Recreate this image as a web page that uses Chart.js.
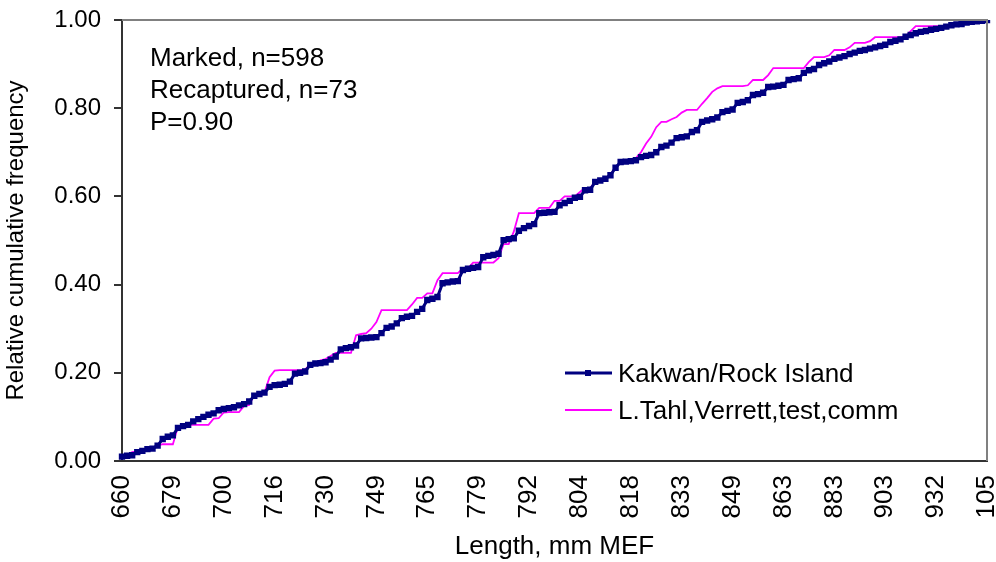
<!DOCTYPE html>
<html>
<head>
<meta charset="utf-8">
<script src="https://cdn.jsdelivr.net/npm/chart.js@4.4.1/dist/chart.umd.min.js"></script>
<style>
  html, body { margin: 0; padding: 0; background: #fff; }
  canvas { display: block; }
</style>
</head>
<body>
<canvas id="cumChart" width="996" height="562"></canvas>
<script>
// lengths (mm MEF), one category per distinct length
const lengths = [
  660, 661, 662, 664, 666, 668, 670, 672, 675, 677,
  679, 681, 683, 685, 687, 690, 692, 694, 696, 698,
  700, 701, 703, 705, 706, 708, 710, 712, 713, 715,
  716, 717, 719, 720, 722, 723, 725, 726, 728, 729,
  730, 732, 734, 736, 738, 740, 742, 744, 746, 747,
  749, 750, 752, 754, 755, 757, 759, 760, 762, 763,
  765, 766, 768, 769, 771, 772, 774, 775, 777, 778,
  779, 780, 782, 783, 784, 786, 787, 788, 790, 791,
  792, 793, 794, 796, 797, 798, 800, 801, 802, 803,
  804, 805, 807, 808, 810, 811, 813, 814, 816, 817,
  818, 819, 821, 822, 824, 825, 827, 829, 830, 832,
  833, 834, 836, 838, 839, 841, 843, 845, 846, 848,
  849, 850, 852, 853, 855, 856, 858, 859, 861, 862,
  863, 865, 867, 869, 871, 873, 875, 877, 879, 881,
  883, 885, 887, 889, 891, 893, 895, 897, 899, 901,
  903, 906, 909, 912, 915, 918, 921, 924, 927, 930,
  932, 935, 938, 942, 946, 950, 955, 962, 975, 990,
  1050
];

// shown every 10th category (last one is cut off in the original)
const tickLabels = ['660', '679', '700', '716', '730', '749', '765', '779', '792',
  '804', '818', '833', '849', '863', '883', '903', '932', '105'];

const kakwan = [
  .010, .012, .013, .020, .023, .027, .028, .035, .050, .055,
  .058, .075, .079, .082, .090, .095, .100, .105, .108, .115,
  .118, .120, .122, .126, .129, .135, .148, .152, .155, .168,
  .172, .173, .175, .180, .198, .200, .203, .218, .221, .222,
  .224, .230, .237, .253, .256, .258, .262, .278, .279, .280,
  .281, .290, .302, .305, .312, .324, .327, .329, .338, .345,
  .365, .368, .372, .403, .405, .407, .408, .433, .436, .438,
  .440, .462, .465, .467, .470, .501, .503, .505, .522, .528,
  .533, .537, .562, .563, .564, .565, .580, .585, .590, .597,
  .599, .614, .615, .633, .636, .640, .648, .665, .678, .679,
  .680, .682, .689, .692, .694, .700, .712, .715, .722, .732,
  .734, .736, .746, .750, .769, .772, .775, .779, .791, .794,
  .797, .812, .814, .818, .830, .832, .835, .848, .849, .851,
  .853, .864, .866, .868, .880, .886, .889, .898, .902, .906,
  .912, .915, .918, .923, .926, .930, .932, .935, .938, .941,
  .944, .950, .953, .956, .962, .966, .970, .973, .975, .978,
  .980, .982, .985, .988, .990, .991, .994, .996, .997, .998,
  1.000
];

const tahl = [
  .010, .014, .020, .022, .027, .027, .027, .035, .038, .038,
  .038, .078, .082, .082, .082, .082, .082, .082, .096, .097,
  .110, .111, .111, .111, .125, .127, .150, .152, .155, .190,
  .205, .206, .206, .206, .206, .206, .208, .218, .222, .228,
  .231, .238, .245, .245, .245, .245, .285, .288, .290, .300,
  .315, .342, .342, .342, .342, .342, .342, .355, .370, .370,
  .380, .380, .410, .426, .426, .426, .426, .437, .437, .450,
  .450, .450, .450, .450, .460, .492, .492, .520, .562, .562,
  .562, .562, .574, .574, .574, .590, .590, .600, .600, .600,
  .610, .619, .619, .633, .636, .640, .650, .665, .678, .680,
  .684, .687, .700, .720, .735, .757, .769, .769, .775, .780,
  .790, .796, .796, .796, .810, .823, .837, .845, .850, .850,
  .850, .850, .850, .852, .864, .864, .864, .875, .891, .891,
  .891, .891, .891, .891, .891, .905, .916, .916, .916, .920,
  .932, .932, .932, .938, .948, .948, .948, .952, .961, .961,
  .961, .961, .961, .961, .963, .975, .986, .986, .986, .986,
  .986, .986, .988, .990, .990, .990, .996, 1.000, 1.000, 1.000,
  1.000
];

const notes = ['Marked, n=598', 'Recaptured, n=73', 'P=0.90'];

const FONT = '"Liberation Sans", Arial, sans-serif';

// frame, text box and legend inside the plot
const extras = {
  id: 'extras',
  afterDraw(chart) {
    const { ctx, chartArea: a } = chart;
    ctx.save();
    ctx.strokeStyle = '#808080';
    ctx.lineWidth = 2;
    ctx.beginPath();
    ctx.moveTo(a.left, a.top);
    ctx.lineTo(a.right, a.top);
    ctx.lineTo(a.right, a.bottom);
    ctx.stroke();

    ctx.fillStyle = '#000';
    ctx.font = '26px ' + FONT;
    ctx.textBaseline = 'alphabetic';
    notes.forEach((t, i) => ctx.fillText(t, 150, 66 + i * 32));

    chart.data.datasets.forEach((ds, i) => {
      const y = 373 + i * 37;
      ctx.strokeStyle = ds.borderColor;
      ctx.lineWidth = ds.borderWidth;
      ctx.beginPath();
      ctx.moveTo(565, y);
      ctx.lineTo(612, y);
      ctx.stroke();
      if (ds.pointRadius > 0) {
        ctx.fillStyle = ds.borderColor;
        ctx.fillRect(585, y - 3, 6, 6);
      }
      ctx.fillStyle = '#000';
      ctx.fillText(ds.label, 618, y + 9);
    });
    ctx.restore();
  }
};

const ctx = document.getElementById('cumChart').getContext('2d');
const cumChart = new Chart(ctx, {
  type: 'line',
  data: {
    labels: lengths,
    datasets: [
      {
        label: 'Kakwan/Rock Island',
        data: kakwan,
        borderColor: '#000080',
        backgroundColor: '#000080',
        borderWidth: 3,
        pointStyle: 'rect',
        pointRadius: 4.5,
        pointBorderWidth: 0,
        tension: 0
      },
      {
        label: 'L.Tahl,Verrett,test,comm',
        data: tahl,
        borderColor: '#ff00ff',
        backgroundColor: '#ff00ff',
        borderWidth: 1.8,
        pointRadius: 0,
        tension: 0
      }
    ]
  },
  options: {
    responsive: false,
    animation: false,
    layout: { padding: { top: 20, right: 9, left: 0, bottom: 0 } },
    scales: {
      x: {
        type: 'category',
        offset: false,
        grid: { display: true, drawOnChartArea: false, drawTicks: false },
        border: { color: '#333', width: 2 },
        ticks: {
          autoSkip: false,
          maxRotation: 90,
          minRotation: 90,
          padding: 14,
          color: '#000',
          font: { family: FONT, size: 26 },
          callback: (v, i) => (i % 10 === 0 ? tickLabels[i / 10] : '')
        },
        title: {
          display: true,
          text: 'Length, mm MEF',
          color: '#000',
          font: { family: FONT, size: 26 },
          padding: { top: 0, bottom: 0 }
        },
        afterFit: (s) => { s.height = 101; s.paddingLeft = 0; s.paddingRight = 0; }
      },
      y: {
        min: 0,
        max: 1,
        grid: { drawOnChartArea: false, drawTicks: true, tickLength: 8, color: '#333', lineWidth: 2 },
        border: { color: '#333', width: 2 },
        ticks: {
          stepSize: 0.2,
          padding: 13,
          color: '#000',
          font: { family: FONT, size: 24 },
          callback: (v) => v.toFixed(2)
        },
        title: {
          display: true,
          text: 'Relative cumulative frequency',
          color: '#000',
          font: { family: FONT, size: 24 },
          padding: { top: 2, bottom: 0 }
        },
        afterFit: (s) => { s.width = 122; s.paddingTop = 0; s.paddingBottom = 0; }
      }
    },
    plugins: {
      legend: { display: false },
      tooltip: { enabled: false }
    }
  },
  plugins: [extras]
});
</script>
</body>
</html>
